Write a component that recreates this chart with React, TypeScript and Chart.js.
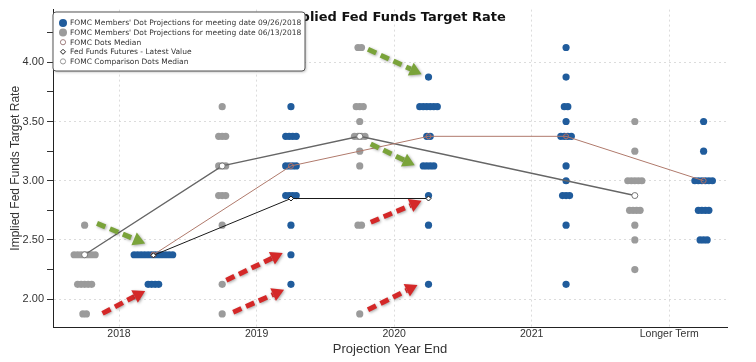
import React, { useEffect, useRef } from 'react';
import { Chart, registerables } from 'chart.js';

Chart.register(...registerables);

// ---------- data ----------
const categories = ['2018', '2019', '2020', '2021', 'Longer Term'];
const yMajorTicks = [2.0, 2.5, 3.0, 3.5, 4.0];
const yMinorTicks = [2.25, 2.75, 3.25, 3.75, 4.25];

// [rate, number of participants] per projection year (Sept 26, 2018 meeting)
const septDots2018: [number, number][] = [[2.375, 12], [2.125, 4]];
const septDots2019: [number, number][] = [[3.625, 1], [3.375, 4], [3.125, 4], [2.875, 4], [2.625, 1], [2.375, 1], [2.125, 1]];
const septDots2020: [number, number][] = [[3.875, 1], [3.625, 6], [3.375, 2], [3.125, 4], [2.875, 1], [2.625, 1], [2.125, 1]];
const septDots2021: [number, number][] = [[4.125, 1], [3.875, 1], [3.625, 2], [3.5, 1], [3.375, 4], [3.125, 1], [3.0, 1], [2.875, 3], [2.625, 1], [2.125, 1]];
const septDotsLonger: [number, number][] = [[3.5, 1], [3.25, 1], [3.0, 6], [2.75, 4], [2.5, 3]];

// June 13, 2018 meeting
const juneDots2018: [number, number][] = [[2.625, 1], [2.375, 7], [2.125, 5], [1.875, 2]];
const juneDots2019: [number, number][] = [[3.625, 1], [3.375, 3], [3.125, 3], [2.875, 3], [2.625, 1], [2.125, 1], [1.875, 1]];
const juneDots2020: [number, number][] = [[4.125, 2], [3.625, 3], [3.5, 1], [3.375, 4], [3.25, 1], [3.125, 1], [2.625, 2], [1.875, 1]];
const juneDots2021: [number, number][] = [];
const juneDotsLonger: [number, number][] = [[3.5, 1], [3.25, 1], [3.0, 5], [2.75, 4], [2.625, 1], [2.5, 1], [2.25, 1]];

const septMedian: (number | null)[] = [2.375, 3.125, 3.375, 3.375, 3.0];
const juneMedian: (number | null)[] = [2.375, 3.125, 3.375, null, 2.875];
const futuresLatest: (number | null)[] = [2.37, 2.85, 2.85, null, null];

// annotation arrows: [fromX, fromY, toX, toY] in category/rate units
const greenArrows: number[][] = [
  [-0.16, 2.64, 0.19, 2.47],
  [1.81, 4.11, 2.2, 3.9],
  [1.83, 3.31, 2.15, 3.13],
];
const redArrows: number[][] = [
  [-0.12, 1.88, 0.19, 2.07],
  [0.78, 2.16, 1.19, 2.39],
  [0.83, 1.89, 1.2, 2.08],
  [1.83, 2.65, 2.2, 2.83],
  [1.81, 1.91, 2.17, 2.12],
];

const seriesLabels = [
  "FOMC Members' Dot Projections for meeting date 09/26/2018",
  "FOMC Members' Dot Projections for meeting date 06/13/2018",
  'FOMC Dots Median',
  'Fed Funds Futures - Latest Value',
  'FOMC Comparison Dots Median',
];

// ---------- style ----------
const BLUE = '#205c9c';
const GRAY = '#9b9b9b';
const SEPT_SIDE = 0.25;
const JUNE_SIDE = -0.25;
const DOT_STEP = 0.0255;
const FONT = "'Liberation Sans', Arial, sans-serif";

function dotPoints(groups: [number, number][][], side: number) {
  const pts: { x: number; y: number }[] = [];
  groups.forEach((g, ci) => {
    g.forEach(([v, n]) => {
      for (let j = 0; j < n; j++) {
        pts.push({ x: ci + side + (j - (n - 1) / 2) * DOT_STEP, y: v });
      }
    });
  });
  return pts;
}

function linePoints(vals: (number | null)[], side: number) {
  const pts: { x: number; y: number }[] = [];
  vals.forEach((v, i) => {
    if (v !== null) pts.push({ x: i + side, y: v });
  });
  return pts;
}

function isMajor(v: number) {
  return Math.abs(v * 2 - Math.round(v * 2)) < 1e-6;
}

function drawArrow(ctx: CanvasRenderingContext2D, x1: number, y1: number, x2: number, y2: number, color: string) {
  const ang = Math.atan2(y2 - y1, x2 - x1);
  const headLen = 12;
  const headW = 7;
  const bx = x2 - Math.cos(ang) * headLen;
  const by = y2 - Math.sin(ang) * headLen;
  ctx.save();
  ctx.shadowColor = 'rgba(0,0,0,0.35)';
  ctx.shadowBlur = 3;
  ctx.shadowOffsetX = 1;
  ctx.shadowOffsetY = 1;
  ctx.strokeStyle = color;
  ctx.fillStyle = color;
  ctx.lineWidth = 5;
  ctx.setLineDash([9, 5]);
  ctx.beginPath();
  ctx.moveTo(x1, y1);
  ctx.lineTo(bx, by);
  ctx.stroke();
  ctx.setLineDash([]);
  ctx.beginPath();
  ctx.moveTo(x2, y2);
  ctx.lineTo(bx + Math.sin(ang) * headW, by - Math.cos(ang) * headW);
  ctx.lineTo(bx - Math.sin(ang) * headW, by + Math.cos(ang) * headW);
  ctx.closePath();
  ctx.fill();
  ctx.restore();
}

const overlayPlugin = {
  id: 'overlay',
  afterDraw(chart: any) {
    const ctx: CanvasRenderingContext2D = chart.ctx;
    const xs = chart.scales.x;
    const ys = chart.scales.y;
    // arrows
    greenArrows.forEach((a) =>
      drawArrow(ctx, xs.getPixelForValue(a[0]), ys.getPixelForValue(a[1]), xs.getPixelForValue(a[2]), ys.getPixelForValue(a[3]), '#7aa33a')
    );
    redArrows.forEach((a) =>
      drawArrow(ctx, xs.getPixelForValue(a[0]), ys.getPixelForValue(a[1]), xs.getPixelForValue(a[2]), ys.getPixelForValue(a[3]), '#d42828')
    );
    // title
    ctx.save();
    ctx.font = "bold 13px 'DejaVu Sans', sans-serif";
    ctx.fillStyle = '#111';
    ctx.textAlign = 'center';
    ctx.textBaseline = 'middle';
    ctx.fillText('Implied Fed Funds Target Rate', 394, 18);
    ctx.restore();
    // legend box
    const lx = 53, ly = 12, lw = 252, lh = 59, r = 3;
    ctx.save();
    ctx.shadowColor = 'rgba(0,0,0,0.3)';
    ctx.shadowBlur = 3;
    ctx.shadowOffsetX = 1;
    ctx.shadowOffsetY = 1;
    ctx.fillStyle = '#fff';
    ctx.beginPath();
    ctx.moveTo(lx + r, ly);
    ctx.lineTo(lx + lw - r, ly);
    ctx.quadraticCurveTo(lx + lw, ly, lx + lw, ly + r);
    ctx.lineTo(lx + lw, ly + lh - r);
    ctx.quadraticCurveTo(lx + lw, ly + lh, lx + lw - r, ly + lh);
    ctx.lineTo(lx + r, ly + lh);
    ctx.quadraticCurveTo(lx, ly + lh, lx, ly + lh - r);
    ctx.lineTo(lx, ly + r);
    ctx.quadraticCurveTo(lx, ly, lx + r, ly);
    ctx.closePath();
    ctx.fill();
    ctx.shadowColor = 'transparent';
    ctx.strokeStyle = '#555';
    ctx.lineWidth = 1;
    ctx.stroke();
    ctx.restore();

    ctx.save();
    ctx.font = "7.5px 'DejaVu Sans', sans-serif";
    ctx.textBaseline = 'middle';
    ctx.textAlign = 'left';
    seriesLabels.forEach((label, i) => {
      const cy = 23 + i * 9.6;
      const ix = 63;
      ctx.setLineDash([]);
      if (i === 0 || i === 1) {
        ctx.fillStyle = i === 0 ? BLUE : GRAY;
        ctx.beginPath();
        ctx.arc(ix, cy, 4, 0, Math.PI * 2);
        ctx.fill();
      } else if (i === 3) {
        ctx.fillStyle = '#fff';
        ctx.strokeStyle = '#222';
        ctx.lineWidth = 1;
        ctx.beginPath();
        ctx.moveTo(ix, cy - 2.5);
        ctx.lineTo(ix + 2.5, cy);
        ctx.lineTo(ix, cy + 2.5);
        ctx.lineTo(ix - 2.5, cy);
        ctx.closePath();
        ctx.fill();
        ctx.stroke();
      } else {
        ctx.fillStyle = '#fff';
        ctx.strokeStyle = i === 2 ? '#a08080' : '#999';
        ctx.lineWidth = 1;
        ctx.beginPath();
        ctx.arc(ix, cy, 2.6, 0, Math.PI * 2);
        ctx.fill();
        ctx.stroke();
      }
      ctx.fillStyle = '#333';
      ctx.fillText(label, 70, cy + 0.5);
    });
    ctx.restore();
  },
};

export default function App() {
  const ref = useRef<HTMLCanvasElement>(null);

  useEffect(() => {
    if (!ref.current) return;
    const septGroups = [septDots2018, septDots2019, septDots2020, septDots2021, septDotsLonger];
    const juneGroups = [juneDots2018, juneDots2019, juneDots2020, juneDots2021, juneDotsLonger];
    const gridColor = 'rgba(205,205,205,0.7)';

    const chart = new Chart(ref.current, {
      type: 'scatter',
      data: {
        datasets: [
          {
            label: seriesLabels[3],
            data: linePoints(futuresLatest, SEPT_SIDE),
            showLine: true,
            borderColor: '#1a1a1a',
            borderWidth: 1,
            pointStyle: 'rectRot',
            pointRadius: 2.5,
            pointBackgroundColor: '#fff',
            pointBorderColor: '#1a1a1a',
            pointBorderWidth: 1,
            order: 1,
          } as any,
          {
            label: seriesLabels[2],
            data: linePoints(septMedian, SEPT_SIDE),
            showLine: true,
            borderColor: '#b07a6c',
            borderWidth: 1,
            pointStyle: 'circle',
            pointRadius: 2.5,
            pointBackgroundColor: 'rgba(0,0,0,0)',
            pointBorderColor: '#b06f65',
            pointBorderWidth: 1,
            order: 2,
          } as any,
          {
            label: seriesLabels[4],
            data: linePoints(juneMedian, JUNE_SIDE),
            showLine: true,
            borderColor: '#666',
            borderWidth: 1.4,
            pointStyle: 'circle',
            pointRadius: 3,
            pointBackgroundColor: '#fff',
            pointBorderColor: '#777',
            pointBorderWidth: 1,
            order: 3,
          } as any,
          {
            label: seriesLabels[0],
            data: dotPoints(septGroups, SEPT_SIDE),
            showLine: false,
            pointRadius: 3.6,
            pointBackgroundColor: BLUE,
            pointBorderColor: BLUE,
            pointBorderWidth: 0,
            order: 4,
          } as any,
          {
            label: seriesLabels[1],
            data: dotPoints(juneGroups, JUNE_SIDE),
            showLine: false,
            pointRadius: 3.6,
            pointBackgroundColor: GRAY,
            pointBorderColor: GRAY,
            pointBorderWidth: 0,
            order: 5,
          } as any,
        ],
      },
      options: {
        responsive: false,
        animation: false,
        events: [],
        layout: { padding: { left: 0, top: 8, right: 29, bottom: 0 } },
        plugins: {
          legend: { display: false },
          tooltip: { enabled: false },
          title: { display: false },
        },
        scales: {
          x: {
            type: 'linear',
            min: -0.48,
            max: 4.42,
            afterFit: (s: any) => {
              s.height = 35;
            },
            afterBuildTicks: (s: any) => {
              s.ticks = categories.map((_, i) => ({ value: i }));
            },
            ticks: {
              autoSkip: false,
              maxRotation: 0,
              padding: 1,
              color: '#333',
              font: { family: FONT, size: 10.5 },
              callback: (v: any) => categories[Math.round(v)] ?? '',
            },
            grid: {
              color: gridColor,
              lineWidth: 1,
              drawTicks: false,
            },
            border: { display: true, color: '#222', width: 1, dash: [2, 3] },
            title: {
              display: true,
              text: 'Projection Year End',
              color: '#333',
              font: { family: FONT, size: 13 },
              padding: { top: 0, bottom: 5 },
            },
          },
          y: {
            type: 'linear',
            min: 1.765,
            max: 4.445,
            afterFit: (s: any) => {
              s.width = 53;
            },
            afterBuildTicks: (s: any) => {
              s.ticks = [...yMajorTicks, ...yMinorTicks].sort((a, b) => a - b).map((v) => ({ value: v }));
            },
            ticks: {
              autoSkip: false,
              padding: 3,
              color: '#333',
              font: { family: FONT, size: 11 },
              callback: (v: any) => (isMajor(Number(v)) ? Number(v).toFixed(2) : ''),
            },
            grid: {
              color: (c: any) => (c.tick && isMajor(c.tick.value) ? gridColor : 'rgba(0,0,0,0)'),
              tickColor: '#333',
              tickLength: 6,
              lineWidth: 1,
            },
            border: { display: true, color: '#222', width: 1, dash: [2, 3] },
            title: {
              display: true,
              text: 'Implied Fed Funds Target Rate',
              color: '#333',
              font: { family: FONT, size: 12 },
              padding: { top: 8, bottom: 0 },
            },
          },
        },
      },
      plugins: [overlayPlugin],
    } as any);

    return () => chart.destroy();
  }, []);

  return (
    <div style={{ position: 'absolute', left: 0, top: 0, width: 756, height: 362, background: '#fff' }}>
      <canvas ref={ref} width={756} height={362} style={{ display: 'block', width: 756, height: 362 }} />
    </div>
  );
}
